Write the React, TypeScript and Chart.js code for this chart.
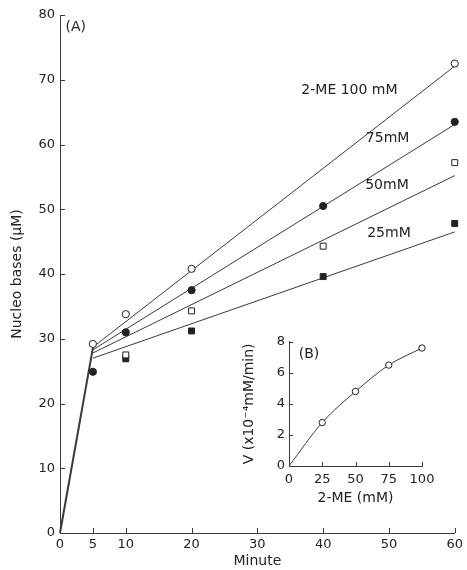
import React, { useEffect, useRef } from 'react';
import { Chart, registerables } from 'chart.js';

Chart.register(...registerables);

// ---- Main panel (A) data ----
const timeTicks = [0, 5, 10, 20, 30, 40, 50, 60];

const time100 = [5, 10, 20, 60];
const val100 = [29.2, 33.8, 40.8, 72.5];

const time75 = [5, 10, 20, 40, 60];
const val75 = [24.9, 31.0, 37.5, 50.5, 63.5];

const time50 = [10, 20, 40, 60];
const val50 = [27.5, 34.3, 44.3, 57.2];

const time25 = [10, 20, 40, 60];
const val25 = [26.9, 31.2, 39.6, 47.8];

// fitted lines: start at 5 min, end at 60 min
const fitTimes = [5, 60];
const fit100 = [28.7, 72.1];
const fit75 = [28.3, 63.1];
const fit50 = [27.8, 55.2];
const fit25 = [27.0, 46.5];
// initial steep segment
const initTimes = [0, 5];
const initVals = [0, 28.6];

const lineLabelTexts = ['(A)', '2-ME 100 mM', '75mM', '50mM', '25mM'];
const lineLabelX = [2.4, 44, 49.8, 49.7, 50];
const lineLabelY = [78.1, 68.4, 61, 53.7, 46.3];

// ---- Inset (B) data ----
const insetConc = [0, 25, 50, 75, 100];
const insetV = [0, 2.8, 4.8, 6.5, 7.6];

const FONT = '"DejaVu Sans", sans-serif';
const INK = '#222';
const LINE = '#3a3a3a';

const pts = (xs: number[], ys: number[]) => xs.map((x, i) => ({ x, y: ys[i] }));

const decorPlugin = {
  id: 'decor',
  afterDatasetsDraw(chart: any, _args: any, opts: any) {
    const ctx = chart.ctx;
    const xs = chart.scales.x;
    const ys = chart.scales.y;
    const len = opts.tickLen || 4;
    ctx.save();
    ctx.strokeStyle = LINE;
    ctx.lineWidth = 1;
    const bottom = ys.getPixelForValue(ys.min);
    const left = xs.getPixelForValue(xs.min);
    xs.ticks.forEach((t: any) => {
      if (t.value === xs.min) return;
      const px = Math.round(xs.getPixelForValue(t.value)) + 0.5;
      ctx.beginPath();
      ctx.moveTo(px, bottom);
      ctx.lineTo(px, bottom - len);
      ctx.stroke();
    });
    ys.ticks.forEach((t: any) => {
      if (t.value === ys.min) return;
      const py = Math.round(ys.getPixelForValue(t.value)) + 0.5;
      ctx.beginPath();
      ctx.moveTo(left, py);
      ctx.lineTo(left + len, py);
      ctx.stroke();
    });
    const labels = opts.labels || [];
    ctx.fillStyle = INK;
    ctx.textAlign = 'center';
    ctx.textBaseline = 'middle';
    ctx.font = `${opts.labelSize || 14}px ${FONT}`;
    labels.forEach((l: any) => {
      ctx.fillText(l.text, xs.getPixelForValue(l.x), ys.getPixelForValue(l.y));
    });
    ctx.restore();
  },
};

function MainChart() {
  const ref = useRef<HTMLCanvasElement>(null);
  useEffect(() => {
    const ptStyle = (style: string, filled: boolean, data: any) => ({
      type: 'scatter' as const,
      data,
      showLine: false,
      clip: false,
      pointStyle: style,
      pointRadius: style === 'rect' ? 4.2 : 3.6,
      pointBorderWidth: 1,
      pointBorderColor: INK,
      pointBackgroundColor: filled ? INK : '#fff',
    });
    const fitLine = (data: any, width = 1) => ({
      type: 'scatter' as const,
      data,
      showLine: true,
      clip: false,
      borderColor: LINE,
      borderWidth: width,
      pointRadius: 0,
    });
    const chart = new Chart(ref.current!, {
      type: 'scatter',
      data: {
        datasets: [
          ptStyle('circle', false, pts(time100, val100)),
          ptStyle('circle', true, pts(time75, val75)),
          ptStyle('rect', false, pts(time50, val50)),
          ptStyle('rect', true, pts(time25, val25)),
          fitLine(pts(fitTimes, fit100)),
          fitLine(pts(fitTimes, fit75)),
          fitLine(pts(fitTimes, fit50)),
          fitLine(pts(fitTimes, fit25)),
          fitLine(pts(initTimes, initVals), 2),
        ] as any,
      },
      options: {
        responsive: false,
        animation: false,
        devicePixelRatio: 1,
        layout: { padding: { left: 0, right: 12, top: 15, bottom: 0 } },
        plugins: {
          legend: { display: false },
          tooltip: { enabled: false },
          decor: {
            tickLen: 5,
            labelSize: 14,
            labels: lineLabelTexts.map((t, i) => ({ text: t, x: lineLabelX[i], y: lineLabelY[i] })),
          },
        } as any,
        scales: {
          x: {
            type: 'linear',
            min: 0,
            max: 60,
            afterBuildTicks: (s: any) => {
              s.ticks = timeTicks.map((v) => ({ value: v }));
            },
            afterFit: (s: any) => {
              s.height = 37;
            },
            grid: { display: false, drawTicks: false },
            border: { display: true, color: LINE, width: 1 },
            ticks: { color: INK, font: { family: FONT, size: 13 }, padding: 4, maxRotation: 0, autoSkip: false },
            title: { display: true, text: 'Minute', color: INK, font: { family: FONT, size: 14 }, padding: { top: 0, bottom: 0 } },
          },
          y: {
            type: 'linear',
            min: 0,
            max: 80,
            ticks: { stepSize: 10, color: INK, font: { family: FONT, size: 13 }, padding: 5 },
            afterFit: (s: any) => {
              s.width = 60;
            },
            grid: { display: false, drawTicks: false },
            border: { display: true, color: LINE, width: 1 },
            title: { display: true, text: 'Nucleo bases (μM)', color: INK, font: { family: FONT, size: 14 }, padding: { top: 9, bottom: 0 } },
          },
        },
      },
      plugins: [decorPlugin],
    });
    return () => chart.destroy();
  }, []);
  return <canvas ref={ref} width={467} height={570} style={{ position: 'absolute', left: 0, top: 0 }} />;
}

function InsetChart() {
  const ref = useRef<HTMLCanvasElement>(null);
  useEffect(() => {
    const chart = new Chart(ref.current!, {
      type: 'scatter',
      data: {
        datasets: [
          {
            data: pts(insetConc, insetV),
            showLine: true,
            clip: false,
            cubicInterpolationMode: 'monotone',
            borderColor: LINE,
            borderWidth: 1,
            pointRadius: insetConc.map((c) => (c === 0 ? 0 : 3.2)),
            pointBorderWidth: 1,
            pointBorderColor: INK,
            pointBackgroundColor: '#fff',
          } as any,
        ],
      },
      options: {
        responsive: false,
        animation: false,
        devicePixelRatio: 1,
        layout: { padding: { left: 0, right: 30, top: 10, bottom: 0 } },
        plugins: {
          legend: { display: false },
          tooltip: { enabled: false },
          decor: { tickLen: 4, labelSize: 14, labels: [{ text: '(B)', x: 15, y: 7.2 }] },
        } as any,
        scales: {
          x: {
            type: 'linear',
            min: 0,
            max: 100,
            ticks: { stepSize: 25, color: INK, font: { family: FONT, size: 13 }, padding: 6, maxRotation: 0 },
            afterFit: (s: any) => {
              s.height = 49;
            },
            grid: { display: false, drawTicks: false },
            border: { display: true, color: LINE, width: 1 },
            title: { display: true, text: '2-ME (mM)', color: INK, font: { family: FONT, size: 14 }, padding: { top: 0, bottom: 8 } },
          },
          y: {
            type: 'linear',
            min: 0,
            max: 8,
            ticks: { stepSize: 2, color: INK, font: { family: FONT, size: 13 }, padding: 4 },
            afterFit: (s: any) => {
              s.width = 54;
            },
            grid: { display: false, drawTicks: false },
            border: { display: true, color: LINE, width: 1 },
            title: { display: true, text: 'V (x10⁻⁴mM/min)', color: INK, font: { family: FONT, size: 14 }, padding: { top: 6, bottom: 0 } },
          },
        },
      },
      plugins: [decorPlugin],
    });
    return () => chart.destroy();
  }, []);
  return <canvas ref={ref} width={217} height={185} style={{ position: 'absolute', left: 235, top: 330 }} />;
}

export default function App() {
  return (
    <div style={{ position: 'absolute', left: 0, top: 0, width: 467, height: 570, background: '#fff', overflow: 'hidden' }}>
      <MainChart />
      <InsetChart />
    </div>
  );
}
